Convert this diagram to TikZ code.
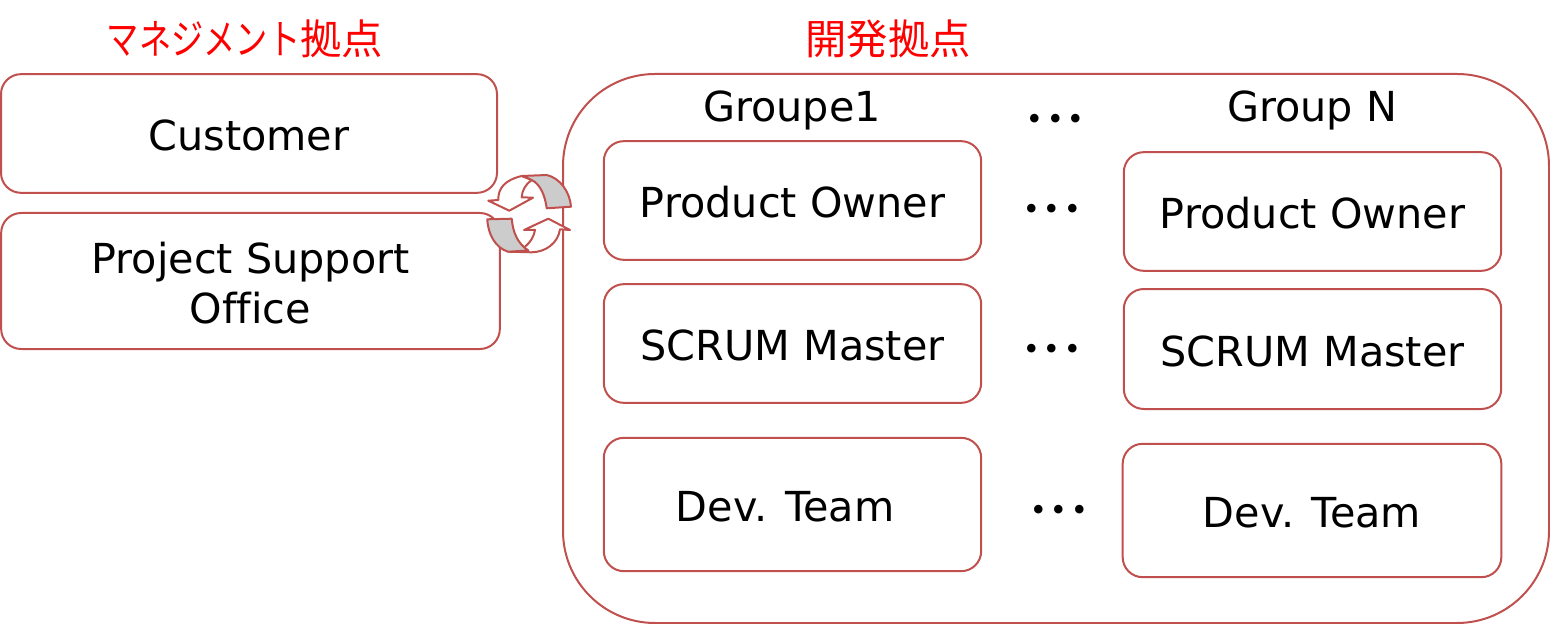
\documentclass[tikz,border=0pt]{standalone}
\usepackage{fontspec}
\usepackage{xcolor}
\setmainfont[Ligatures=NoCommon]{DejaVu Sans}
\newfontfamily\cjk{Noto Sans CJK JP}
\newfontfamily\cjkkana[FakeStretch=0.78]{Noto Sans CJK JP}
\newfontfamily\dotfont{Poppins}
\definecolor{boxred}{HTML}{C0504D}
\definecolor{bandgray}{HTML}{CCCCCC}
\usetikzlibrary{positioning}
\newcommand{\dotrow}{.\hspace{4.5pt}.\hspace{4.5pt}.}
\tikzset{
    role/.style={draw=boxred, line width=1.5pt, rounded corners=15pt, align=center, inner sep=0pt, text height=26pt, text depth=0pt, font=\fontsize{31}{37.5}\selectfont},
    heading/.style={text=red, inner sep=0pt, anchor=base, font=\cjk\fontsize{31}{35}\selectfont},
    grouplabel/.style={inner sep=0pt, anchor=base, font=\fontsize{31}{35}\selectfont},
    gap/.style={inner sep=0pt, anchor=base, font=\dotfont\fontsize{52}{52}\selectfont},
    swirl/.style={draw=boxred, line width=1.5pt, line join=round}
}
\begin{document}
\begin{tikzpicture}[x=0.75pt, y=-0.75pt]
    \useasboundingbox (0,0) rectangle (1550,624);
    % Headings
    \node[heading] (mgmt) at (245,55) {{\cjkkana マネジメント}拠点};
    \node[heading] (dev) at (888,55) {開発拠点};
    % Management side
    \node[role, minimum width=372pt, minimum height=89pt] (customer) at (249,133.5) {Customer};
    \node[role, text height=63pt, minimum width=374pt, minimum height=102pt] (pso) at (250.5,281) {Project Support\\Office};
    % Development side
    \node[draw=boxred, line width=1.5pt, rounded corners=69pt, minimum width=739.5pt, minimum height=411.75pt, inner sep=0pt] (site) at (1056,348.5) {};
    \node[grouplabel] (groupA) at (792,122) {Groupe1};
    \node[grouplabel] (groupN) at (1312,122) {Group N};
    \node[gap] (dotsTop) at (1055.5,123) {\dotrow};
    % Group 1
    \node[role, minimum width=283pt, minimum height=89pt] (ownerA) at (792.5,200.5) {Product Owner};
    \node[role, minimum width=283pt, minimum height=89pt] (masterA) at (792.5,343.5) {SCRUM Master};
    \node[role, minimum width=283pt, minimum height=100pt] (teamA) at (792.5,504.5) {\hspace*{-11pt}Dev. Team};
    % Group N
    \node[role, minimum width=283pt, minimum height=89pt] (ownerN) at (1312.5,211.5) {Product Owner};
    \node[role, minimum width=283pt, minimum height=90pt] (masterN) at (1312.5,349) {SCRUM Master};
    \node[role, minimum width=284pt, minimum height=100pt] (teamN) at (1312,510.5) {Dev. Team};
    % Dots between groups
    \node[gap] (dotsOwner) at (1052,213) {\dotrow};
    \node[gap] (dotsMaster) at (1052,352) {\dotrow};
    \node[gap] (dotsTeam) at (1059,513) {\dotrow};
    % Cycle arrows
    \draw[swirl, fill=white] (521.7,176) .. controls (505,180) and (498,188) .. (498.3,200) -- (488.3,200.7) -- (509.3,210.7) -- (533,197.7) -- (521.7,197.3) .. controls (522,190) and (526,184) .. (531.7,180) -- cycle;
    \draw[swirl, fill=bandgray] (521.7,176) -- (546.7,175) .. controls (560,178) and (570,192) .. (571,206.7) -- (546.7,208.3) .. controls (545,195) and (540,184) .. (531.7,180) .. controls (528,178) and (525,177) .. (521.7,176) -- cycle;
    \draw[swirl, fill=white] (523,248.3) .. controls (530,243) and (534,237) .. (535,230) -- (524,230) -- (548.3,218.7) -- (570,230) -- (560,229.3) .. controls (558,243) and (546,252) .. (531.7,252.3) -- (508,251.7) -- cycle;
    \draw[swirl, fill=bandgray] (487.3,219.3) -- (511.7,218.7) .. controls (513,232) and (517,243) .. (528.3,250.5) -- (508,251.7) .. controls (496,248) and (488,235) .. (487.3,219.3) -- cycle;
\end{tikzpicture}
\end{document}
